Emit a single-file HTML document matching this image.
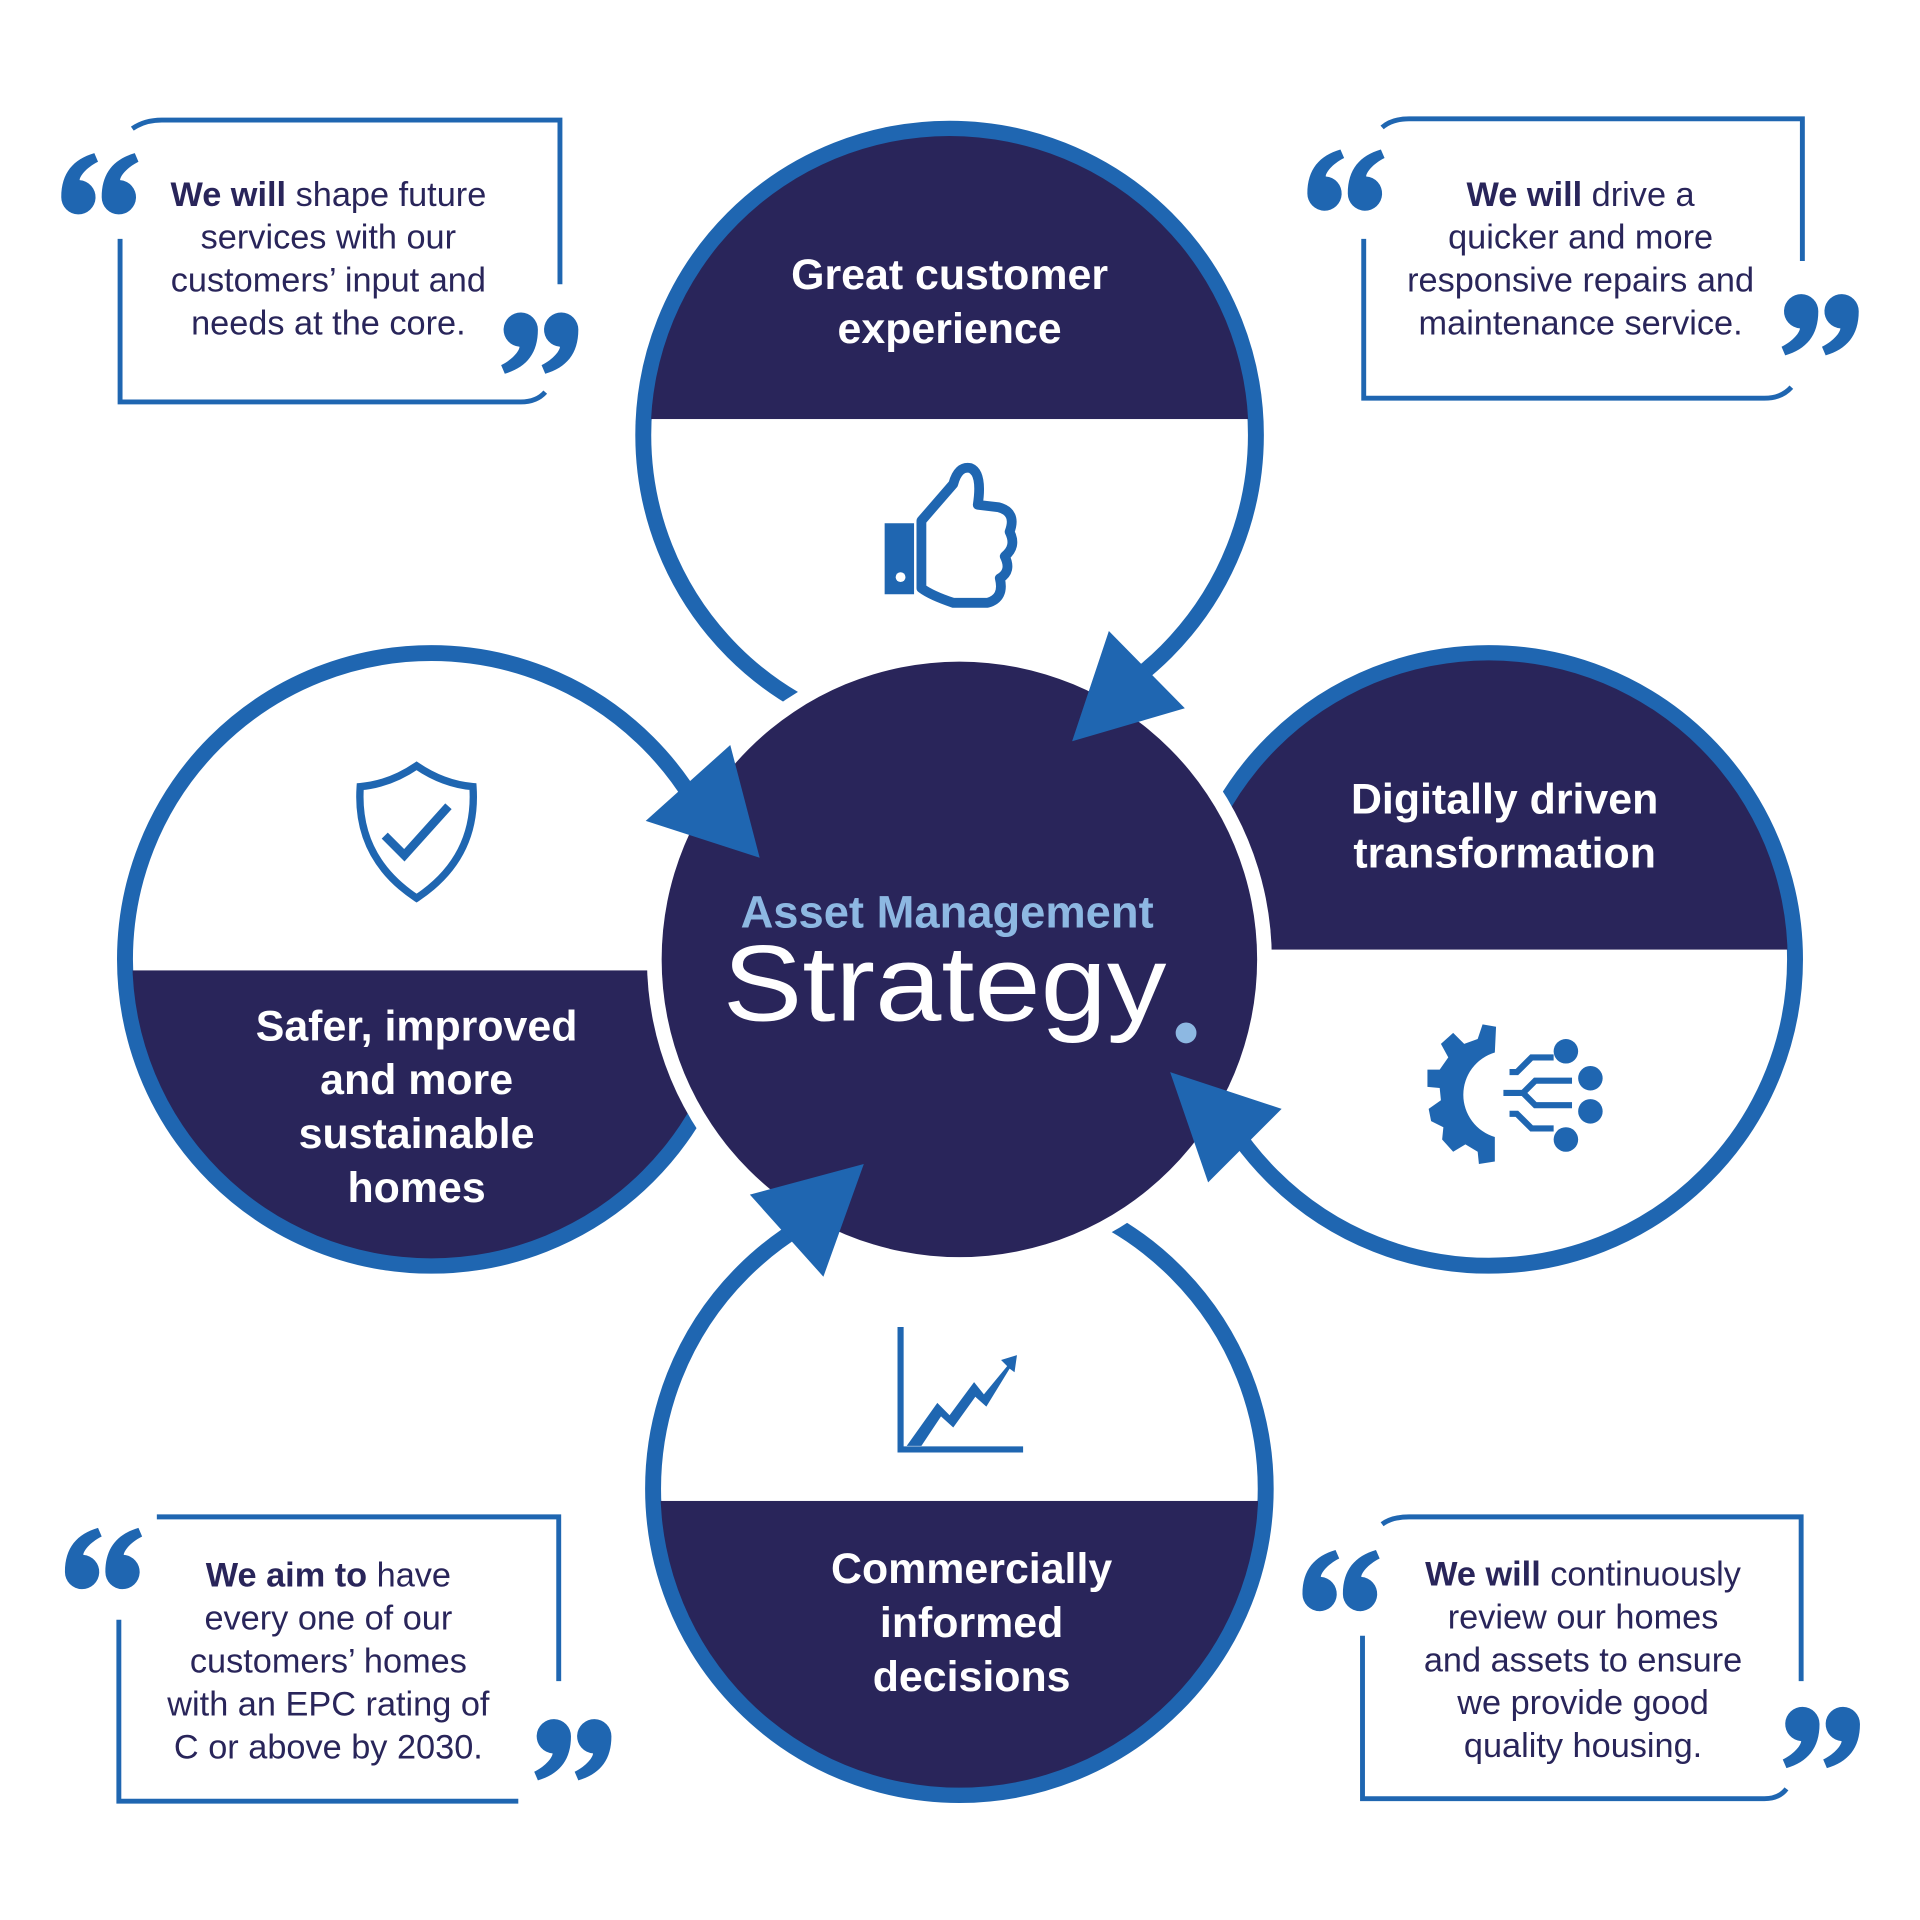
<!DOCTYPE html>
<html><head><meta charset="utf-8"><style>
html,body{margin:0;padding:0;background:#fff;}
svg{display:block;}
text{font-family:"Liberation Sans",sans-serif;}
</style></head><body>
<svg width="1920" height="1920" viewBox="0 0 1567 1567" xmlns="http://www.w3.org/2000/svg">
<defs>
<path id="q6" d="M0,36 C0,16 10,5 27,0 L30,7 C20,12 15,19 15,22 A14,14 0 1 1 0,36 Z"/>
<g id="open"><use href="#q6" x="0" y="0"/><use href="#q6" x="33" y="0"/></g>
<g id="close"><g transform="rotate(180 31 25)"><use href="#q6" x="0" y="0"/><use href="#q6" x="33" y="0"/></g></g>
<clipPath id="cT"><circle cx="775" cy="355" r="244"/></clipPath>
<clipPath id="cR"><circle cx="1215" cy="783" r="244"/></clipPath>
<clipPath id="cB"><circle cx="783" cy="1215" r="244"/></clipPath>
<clipPath id="cL"><circle cx="352" cy="783" r="244"/></clipPath>
</defs>
<rect width="1567" height="1567" fill="#fff"/>

<g fill="none" stroke="#1f66b1" stroke-width="13">
<circle cx="775" cy="355" r="250"/>
<circle cx="1215" cy="783" r="250"/>
<circle cx="783" cy="1215" r="250"/>
<circle cx="352" cy="783" r="250"/>
</g>
<g fill="#29255a">
<rect x="500" y="90" width="560" height="252" clip-path="url(#cT)"/>
<rect x="950" y="520" width="540" height="255" clip-path="url(#cR)"/>
<rect x="520" y="1225" width="540" height="260" clip-path="url(#cB)"/>
<rect x="90" y="792" width="540" height="260" clip-path="url(#cL)"/>
</g>

<circle cx="783" cy="783" r="255" fill="#fff"/>
<circle cx="783" cy="783" r="243" fill="#29255a"/>

<g fill="#1f66b1">
<polygon points="905,515 967,578 875,605"/>
<polygon points="955,875 1046,905 986,965"/>
<polygon points="705,950 612,975 672,1042"/>
<polygon points="596,608 620,700 527,670"/>
</g>

<g fill="#fff" font-weight="bold" font-size="35" text-anchor="middle">
<text x="775" y="236">Great customer</text>
<text x="775" y="280">experience</text>
<text x="1228" y="664">Digitally driven</text>
<text x="1228" y="708">transformation</text>
<text x="340" y="849">Safer, improved</text>
<text x="340" y="893">and more</text>
<text x="340" y="937">sustainable</text>
<text x="340" y="981">homes</text>
<text x="793" y="1292">Commercially</text>
<text x="793" y="1336">informed</text>
<text x="793" y="1380">decisions</text>
</g>

<text x="773" y="757" fill="#8db8e2" font-weight="bold" font-size="37" text-anchor="middle">Asset Management</text>
<text x="590" y="833" fill="#fff" font-size="88" textLength="362" lengthAdjust="spacingAndGlyphs">Strategy</text>
<circle cx="968" cy="843" r="8.5" fill="#8db8e2"/>

<g fill="#1f66b1">
 <path d="M722,427 h24 v58 h-24 z" />
 <circle cx="735" cy="471" r="4" fill="#fff"/>
 <path d="M752,425 L778,395 Q782,380 792,382 Q802,386 798,412 L815,414 Q830,418 824,434 Q830,446 820,454 Q826,466 816,472 Q820,488 806,492 L778,492 Q760,486 752,480 Z" fill="none" stroke="#1f66b1" stroke-width="8" stroke-linejoin="round"/>
 <path d="M340,625 Q318,640 294,642 Q290,700 340,733 Q390,700 386,642 Q362,640 340,625 Z" fill="none" stroke="#1f66b1" stroke-width="6"/>
 <path d="M314,682 L330,698 L366,658" fill="none" stroke="#1f66b1" stroke-width="7"/>
 <path d="M735,1083 v100 h100" fill="none" stroke="#1f66b1" stroke-width="5"/>
 <path d="M740,1180 L765,1145 L775,1155 L795,1128 L803,1138 L822,1115 L817,1110 L830,1106 L828,1120 L824,1117 L805,1148 L796,1140 L778,1165 L768,1156 L752,1180 Z"/>
 <path d="M1221,838 L1210,836 L1206,848 L1195,852 L1186,843 L1176,852 L1182,863 L1175,873 L1165,873 L1165,887 L1175,888 L1176,898 L1166,905 L1168,915 L1178,920 L1177,930 L1186,940 L1196,934 L1206,940 L1207,950 L1220,948 L1220,928 A36,36 0 0 1 1220,859 Z"/>
 <path d="M1232,875 h6 l12,-12 h18 M1227,892 h16 l10,-10 h30 M1243,892 l10,10 h30 M1232,909 h6 l12,12 h18" fill="none" stroke="#1f66b1" stroke-width="5"/>
 <circle cx="1278" cy="858" r="10"/><circle cx="1298" cy="880" r="10"/><circle cx="1298" cy="907" r="10"/><circle cx="1278" cy="930" r="10"/>
</g>

<g fill="none" stroke="#1f66b1" stroke-width="4">
<path d="M108,105 Q118,98 132,98 H457 V232"/>
<path d="M98,195 V328 H425 Q438,328 445,320"/>
<path d="M1128,104 Q1136,97 1150,97 H1471 V213"/>
<path d="M1113,195 V325 H1440 Q1454,325 1462,316"/>
<path d="M128,1238 H456 V1372"/>
<path d="M97,1322 V1470 H423"/>
<path d="M1128,1244 Q1136,1238 1150,1238 H1470 V1372"/>
<path d="M1112,1335 V1468 H1440 Q1452,1468 1458,1460"/>
</g>
<g fill="#1f66b1">
<use href="#open" transform="translate(50,125)"/>
<use href="#close" transform="translate(410,255)"/>
<use href="#open" transform="translate(1067,122)"/>
<use href="#close" transform="translate(1455,240)"/>
<use href="#open" transform="translate(53,1247)"/>
<use href="#close" transform="translate(437,1403)"/>
<use href="#open" transform="translate(1063,1265)"/>
<use href="#close" transform="translate(1456,1393)"/>
</g>

<g fill="#29255a" font-size="28" text-anchor="middle">
<text x="268" y="168"><tspan font-weight="bold">We will</tspan> shape future</text>
<text x="268" y="203">services with our</text>
<text x="268" y="238">customers’ input and</text>
<text x="268" y="273">needs at the core.</text>

<text x="1290" y="168"><tspan font-weight="bold">We will</tspan> drive a</text>
<text x="1290" y="203">quicker and more</text>
<text x="1290" y="238">responsive repairs and</text>
<text x="1290" y="273">maintenance service.</text>

<text x="268" y="1295"><tspan font-weight="bold">We aim to</tspan> have</text>
<text x="268" y="1330">every one of our</text>
<text x="268" y="1365">customers’ homes</text>
<text x="268" y="1400">with an EPC rating of</text>
<text x="268" y="1435">C or above by 2030.</text>

<text x="1292" y="1294"><tspan font-weight="bold">We will</tspan> continuously</text>
<text x="1292" y="1329">review our homes</text>
<text x="1292" y="1364">and assets to ensure</text>
<text x="1292" y="1399">we provide good</text>
<text x="1292" y="1434">quality housing.</text>
</g>
</svg>
</body></html>
